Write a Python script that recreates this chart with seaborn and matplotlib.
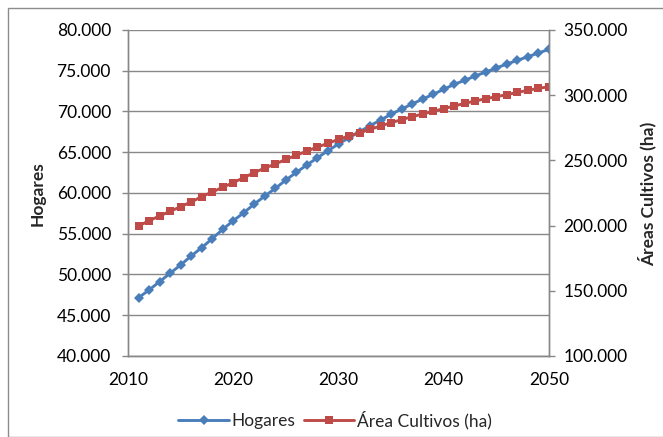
import matplotlib
matplotlib.use("Agg")
import matplotlib.pyplot as plt
import matplotlib.ticker as mticker
from matplotlib.lines import Line2D
from matplotlib.patches import Rectangle
import seaborn as sns
import pandas as pd

years = list(range(2011, 2051))
hogares = [47150, 48100, 49120, 50150, 51170, 52270, 53290, 54400, 55540, 56600,
           57580, 58650, 59630, 60570, 61590, 62540, 63440, 64330, 65190, 66010,
           66790, 67520, 68260, 68960, 69660, 70310, 70920, 71530, 72110, 72720,
           73340, 73830, 74360, 74850, 75340, 75830, 76280, 76730, 77180, 77630]
area_cultivos = [199700, 203760, 207360, 210940, 214510, 218100, 222190, 225770, 229370, 232950,
                 236790, 240620, 244170, 247240, 250820, 253880, 257210, 260280, 263080, 266140,
                 268700, 271270, 273830, 276380, 278950, 281250, 283550, 285580, 287630, 289680,
                 291720, 293800, 295550, 297360, 298890, 300400, 302200, 303740, 305290, 306500]

df = pd.DataFrame({"year": years, "Hogares": hogares, "Área Cultivos (ha)": area_cultivos})

sns.set_style("white")
plt.rcParams["font.family"] = ["Lato", "DejaVu Sans"]

BLUE = "#4A7EBB"
RED = "#BE4B48"
GRID = "#888888"
FS = 12.5

fig = plt.figure(figsize=(6.63, 4.37), dpi=100)
fig.patches.append(Rectangle((8 / 663, 0), 1, 1 - 8 / 437, transform=fig.transFigure,
                             fill=False, edgecolor="#8c8c8c", linewidth=1.0))
ax = fig.add_axes([128 / 663, 1 - 356 / 437, 421 / 663, 326 / 437])
ax2 = ax.twinx()

sns.lineplot(data=df, x="year", y="Hogares", ax=ax, color=BLUE, linewidth=2.1,
             marker="D", markersize=5, markeredgewidth=0, markeredgecolor=BLUE)
sns.lineplot(data=df, x="year", y="Área Cultivos (ha)", ax=ax2, color=RED, linewidth=2.1,
             marker="s", markersize=6.4, markeredgewidth=0, markeredgecolor=RED)

ax.set_xlim(2010, 2050)
ax.set_ylim(40000, 80000)
ax2.set_ylim(100000, 350000)
ax.set_xticks([2010, 2020, 2030, 2040, 2050])
ax.set_yticks(range(40000, 80001, 5000))
ax2.set_yticks(range(100000, 350001, 50000))

dotfmt = mticker.FuncFormatter(lambda v, p: f"{int(v):,}".replace(",", "."))
ax.yaxis.set_major_formatter(dotfmt)
ax2.yaxis.set_major_formatter(dotfmt)

ax.grid(axis="y", color=GRID, linewidth=1.0)
ax.set_axisbelow(True)
ax2.set_zorder(ax.get_zorder() + 1)
ax2.patch.set_visible(False)

for a in (ax, ax2):
    for s in a.spines.values():
        s.set_color(GRID)
        s.set_linewidth(1.0)
    a.spines["top"].set_visible(False)
    a.tick_params(axis="both", which="major", labelsize=FS, colors="#000000",
                  length=4.3, width=1.0, color=GRID, direction="out")

ax.tick_params(axis="y", pad=8)
ax2.tick_params(axis="y", pad=6)
ax.tick_params(axis="x", pad=7)

ax.set_xlabel("")
ax.set_ylabel("Hogares", fontsize=FS, fontweight="bold")
ax2.set_ylabel("Áreas Cultivos (ha)", fontsize=FS, fontweight="bold", rotation=90)
ax.yaxis.set_label_coords(-0.195, 0.498)
ax2.yaxis.set_label_coords(1.21, 0.497)

handles = [Line2D([], [], color=BLUE, linewidth=2.1, marker="D", markersize=4.6,
                  markeredgewidth=0),
           Line2D([], [], color=RED, linewidth=2.1, marker="s", markersize=6.4,
                  markeredgewidth=0)]
fig.legend(handles, ["Hogares", "Área Cultivos (ha)"], loc="center",
           bbox_to_anchor=(335 / 663, 1 - 420 / 437), ncol=2, frameon=False,
           fontsize=FS, handlelength=2.9, handletextpad=0.15, columnspacing=0.5)

fig.savefig("out.png", dpi=100)
